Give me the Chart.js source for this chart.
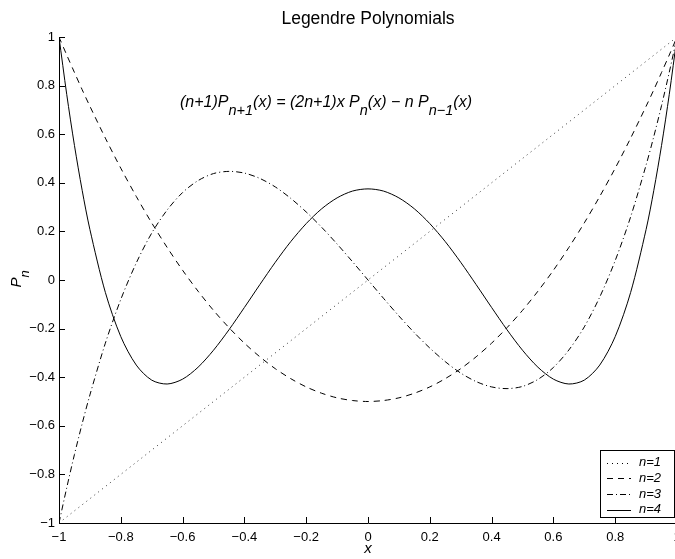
<!DOCTYPE html>
<html>
<head>
<meta charset="utf-8">
<title>Legendre Polynomials</title>
<script src="https://cdn.jsdelivr.net/npm/chart.js@4"></script>
<style>
  body { margin: 0; background: #fff; }
  #wrap { width: 675px; height: 559px; overflow: hidden; }
</style>
</head>
<body>
<div id="wrap"><canvas id="grafik" width="700" height="559"></canvas></div>
<script>
// === DATA ===
const xValues = [-1, -0.975, -0.95, -0.925, -0.9, -0.85, -0.8, -0.75, -0.7, -0.65, -0.6, -0.55, -0.5, -0.45, -0.4, -0.35, -0.3, -0.25, -0.2, -0.15, -0.1, -0.05,
  0, 0.05, 0.1, 0.15, 0.2, 0.25, 0.3, 0.35, 0.4, 0.45, 0.5, 0.55, 0.6, 0.65, 0.7, 0.75, 0.8, 0.85, 0.9, 0.925, 0.95, 0.975, 1];

const p1X = [-1, 1];
const p1 = [-1, 1];

const p2 = [1, 0.926, 0.854, 0.783, 0.715, 0.584, 0.46, 0.344, 0.235, 0.134, 0.04, -0.046, -0.125, -0.196, -0.26, -0.316, -0.365, -0.406, -0.44, -0.466, -0.485, -0.496,
  -0.5, -0.496, -0.485, -0.466, -0.44, -0.406, -0.365, -0.316, -0.26, -0.196, -0.125, -0.046, 0.04, 0.134, 0.235, 0.344, 0.46, 0.584, 0.715, 0.783, 0.854, 0.926, 1];

const p3 = [-1, -0.855, -0.718, -0.591, -0.473, -0.26, -0.08, 0.07, 0.193, 0.288, 0.36, 0.409, 0.438, 0.447, 0.44, 0.418, 0.383, 0.336, 0.28, 0.217, 0.148, 0.075,
  0, -0.075, -0.148, -0.217, -0.28, -0.336, -0.383, -0.418, -0.44, -0.447, -0.438, -0.409, -0.36, -0.288, -0.193, -0.07, 0.08, 0.26, 0.473, 0.591, 0.718, 0.855, 1];

const p4 = [1, 0.764, 0.554, 0.369, 0.208, -0.051, -0.233, -0.35, -0.412, -0.428, -0.408, -0.359, -0.289, -0.205, -0.113, -0.019, 0.073, 0.158, 0.232, 0.293, 0.338, 0.366,
  0.375, 0.366, 0.338, 0.293, 0.232, 0.158, 0.073, -0.019, -0.113, -0.205, -0.289, -0.359, -0.408, -0.428, -0.412, -0.35, -0.233, -0.051, 0.208, 0.369, 0.554, 0.764, 1];

const seriesLabels = ["n=1", "n=2", "n=3", "n=4"];
const tickValues = [-1, -0.8, -0.6, -0.4, -0.2, 0, 0.2, 0.4, 0.6, 0.8, 1];

const FONT = "'Liberation Sans', Arial, Helvetica, sans-serif";
const dashes = [[1, 4], [6, 5], [6, 3, 1, 3], []];

function toPoints(xs, ys) {
  return xs.map((x, i) => ({ x: x, y: ys[i] }));
}

function formatTick(value) {
  const v = Math.round(value * 10) / 10;
  return v < 0 ? "\u2212" + Math.abs(v) : String(v);
}

// === TEKS DENGAN SUBSCRIPT ===
function drawRich(ctx, parts, cx, cy, size, subSize, subShift) {
  let total = 0;
  parts.forEach(p => {
    ctx.font = "italic " + (p.sub ? subSize : size) + "px " + FONT;
    p.w = ctx.measureText(p.t).width;
    total += p.w;
  });
  let x = cx - total / 2;
  ctx.textAlign = "left";
  ctx.textBaseline = "middle";
  parts.forEach(p => {
    ctx.font = "italic " + (p.sub ? subSize : size) + "px " + FONT;
    ctx.fillText(p.t, x, cy + (p.sub ? subShift : 0));
    x += p.w;
  });
}

// === PLUGIN: judul, persamaan, tick ke dalam, legenda ===
const hiasanPlugin = {
  id: "hiasan",
  afterDraw(chart) {
    const ctx = chart.ctx;
    const area = chart.chartArea;
    const sx = chart.scales.x;
    const sy = chart.scales.y;
    ctx.save();
    ctx.fillStyle = "#000";
    ctx.strokeStyle = "#000";
    ctx.lineWidth = 1;

    // tick mark ke dalam
    ctx.beginPath();
    tickValues.forEach(v => {
      const px = Math.round(sx.getPixelForValue(v)) + 0.5;
      ctx.moveTo(px, area.bottom);
      ctx.lineTo(px, area.bottom - 6);
      const py = Math.round(sy.getPixelForValue(v)) + 0.5;
      ctx.moveTo(area.left, py);
      ctx.lineTo(area.left + 6, py);
    });
    ctx.stroke();

    // judul
    ctx.font = "17.5px " + FONT;
    ctx.textAlign = "center";
    ctx.textBaseline = "middle";
    ctx.fillText("Legendre Polynomials", 368, 19);

    // persamaan rekursi
    drawRich(ctx, [
      { t: "(n+1)P" }, { t: "n+1", sub: true },
      { t: "(x) = (2n+1)x P" }, { t: "n", sub: true },
      { t: "(x) \u2212 n P" }, { t: "n\u22121", sub: true },
      { t: "(x)" }
    ], 326, 103, 16, 14.5, 8);

    // label sumbu x
    ctx.font = "italic 15px " + FONT;
    ctx.textAlign = "center";
    ctx.fillText("x", 368, 549);

    // label sumbu y (diputar)
    ctx.save();
    ctx.translate(17, 279);
    ctx.rotate(-Math.PI / 2);
    drawRich(ctx, [{ t: "P" }, { t: "n", sub: true }], 0, 0, 15, 13, 8);
    ctx.restore();

    // legenda
    const bx = 600, by = 450, bw = 74, bh = 67;
    ctx.fillStyle = "#fff";
    ctx.fillRect(bx, by, bw, bh);
    ctx.strokeRect(bx + 0.5, by + 0.5, bw, bh);
    ctx.fillStyle = "#000";
    seriesLabels.forEach((lbl, i) => {
      const y = by + 12.5 + i * 15.7;
      ctx.setLineDash(dashes[i]);
      ctx.beginPath();
      ctx.moveTo(607, Math.round(y) + 0.5);
      ctx.lineTo(631, Math.round(y) + 0.5);
      ctx.stroke();
      ctx.setLineDash([]);
      ctx.font = "italic 13px " + FONT;
      ctx.textAlign = "left";
      ctx.textBaseline = "middle";
      ctx.fillText(lbl, 639, y);
    });
    ctx.restore();
  }
};

// === GRAFIK ===
const datasets = [
  toPoints(p1X, p1), toPoints(xValues, p2), toPoints(xValues, p3), toPoints(xValues, p4)
].map((pts, i) => ({
  label: seriesLabels[i],
  data: pts,
  borderColor: i === 0 ? "#333" : "#000",
  borderWidth: 1,
  borderDash: dashes[i],
  pointRadius: 0,
  fill: false,
  tension: 0.3
}));

new Chart(document.getElementById("grafik").getContext("2d"), {
  type: "line",
  data: { datasets: datasets },
  options: {
    responsive: false,
    animation: false,
    events: [],
    layout: { padding: { left: 0, top: 37, right: 23, bottom: 0 } },
    plugins: { legend: { display: false }, title: { display: false }, tooltip: { enabled: false } },
    scales: {
      x: {
        type: "linear",
        min: -1,
        max: 1,
        afterFit(scale) { scale.height = 36; },
        afterBuildTicks(scale) { scale.ticks = tickValues.map(v => ({ value: v })); },
        grid: { display: false, drawTicks: false },
        border: { display: true, color: "#000", width: 1 },
        ticks: { padding: 7, color: "#000", font: { family: FONT, size: 13 }, callback: formatTick, maxRotation: 0, autoSkip: false }
      },
      y: {
        type: "linear",
        min: -1,
        max: 1,
        afterFit(scale) { scale.width = 59; },
        afterBuildTicks(scale) { scale.ticks = tickValues.map(v => ({ value: v })); },
        grid: { display: false, drawTicks: false },
        border: { display: true, color: "#000", width: 1 },
        ticks: { padding: 4, color: "#000", font: { family: FONT, size: 13 }, callback: formatTick, autoSkip: false }
      }
    }
  },
  plugins: [hiasanPlugin]
});
</script>
</body>
</html>
